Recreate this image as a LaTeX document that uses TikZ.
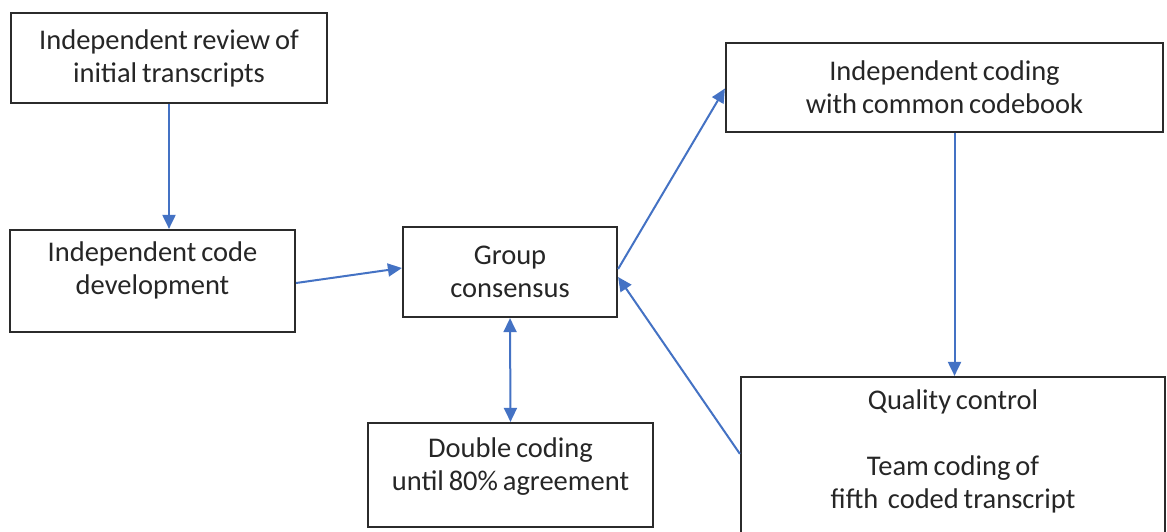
\documentclass[tikz,border=0pt]{standalone}
\usepackage{fontspec}
\setmainfont{Carlito}[WordSpace={0.75}]
\usetikzlibrary{arrows.meta,calc}
\definecolor{arrowblue}{HTML}{4472C4}
\definecolor{boxline}{HTML}{2B2B2B}
\begin{document}
\begin{tikzpicture}[x=1pt,y=-1pt,
  box/.style={draw=boxline,line width=2.2pt,fill=white,rectangle,inner sep=0pt,align=center,
    font=\fontsize{28.5}{33}\selectfont,text=black!85},
  tip/.style={Triangle[length=14pt,width=13pt]},
  conn/.style={draw=arrowblue,line width=2pt,-{Triangle[length=14pt,width=13pt]}},
  bconn/.style={draw=arrowblue,line width=2pt,{Triangle[length=14pt,width=13pt]}-{Triangle[length=14pt,width=13pt]}}]
\useasboundingbox[fill=white] (0,0) rectangle (1167,531);
\node[box,minimum width=316pt,minimum height=90pt] (rev) at (169,58) {Independent review of\\initial transcripts};
\node[box,minimum width=285pt,minimum height=102pt] (dev) at (152.5,281) {Independent code\\development\\[-8pt]};
\node[box,minimum width=214pt,minimum height=90pt] (grp) at (510,272) {Group\\consensus};
\node[box,minimum width=285pt,minimum height=104pt] (dbl) at (510.5,475) {Double coding\\until 80\% agreement\\[-12pt]};
\node[box,minimum width=437pt,minimum height=89pt] (ic) at (944.5,87.5) {Independent coding\\with common codebook};
\node[box,minimum width=424pt,minimum height=183pt] (qc) at (953,468.5) {};
\node[align=center,anchor=north,inner sep=0pt,font=\fontsize{28.5}{33}\selectfont,text=black!85] (qct) at ([yshift=-14pt]qc.north) {Quality control\\[33pt]Team coding of\\fifth\ \ coded transcript};
\draw[conn] (rev.south) -- (rev.south |- dev.north);
\draw[conn] ([yshift=-2pt]dev.east) -- ([yshift=4pt]grp.west);
\draw[conn] ([yshift=3pt]grp.east) -- ([yshift=-1pt]ic.west);
\draw[conn] ([xshift=10pt]ic.south) -- ([xshift=10pt]ic.south |- qc.north);
\draw[conn] ([yshift=-78pt]qc.north west) -- ([yshift=-5pt]grp.east);
\draw[bconn] (grp.south) -- (dbl.north);
\end{tikzpicture}
\end{document}
